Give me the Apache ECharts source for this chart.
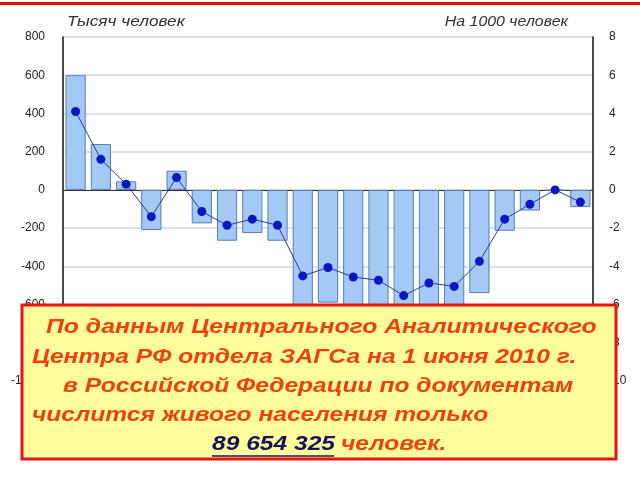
<!DOCTYPE html>
<html>
<head>
    <meta charset="utf-8">
    <title>ECharts</title>
    <script src="https://cdn.jsdelivr.net/npm/echarts@6/dist/echarts.min.js"></script>
    <style>
        html, body { margin: 0; padding: 0; background: #fff; }
        #main { width: 640px; height: 480px; }
    </style>
</head>
<body>
    <div id="main"></div>
<script type="text/javascript">
    // годы (подписи оси закрыты плашкой)
    var years = ['1990','1991','1992','1993','1994','1995','1996','1997','1998','1999','2000',
                 '2001','2002','2003','2004','2005','2006','2007','2008','2009','2010'];
    // тысяч человек
    var thousands = [600, 240, 45, -210, 100, -175, -266, -226, -266, -650, -590,
                     -660, -686, -802, -706, -732, -540, -214, -108, -3, -90];
    // на 1000 человек
    var perThousand = [4.1, 1.6, 0.3, -1.4, 0.65, -1.13, -1.85, -1.53, -1.85, -4.5, -4.06,
                       -4.56, -4.73, -5.53, -4.87, -5.05, -3.74, -1.53, -0.75, 0.0, -0.64];

    var noteColor = '#ef400d';
    var noteFont = 'italic bold 21px "Liberation Sans", Arial, sans-serif';
    var titleFont = 'italic 15px "Liberation Sans", Arial, sans-serif';

    // текст, растянутый по горизонтали, как на исходной картинке
    function txt(s, x, y, font, fill, sx, align) {
        return {
            type: 'text', z: 101, x: x, y: y, scaleX: sx,
            style: { text: s, x: 0, y: 0, fill: fill, font: font,
                     textAlign: align || 'left', align: align || 'left',
                     textVerticalAlign: 'middle', verticalAlign: 'middle' }
        };
    }

    var myChart = echarts.init(document.getElementById('main'));
    myChart.setOption({
        animation: false,
        grid: { left: 63, right: 47, top: 37, bottom: 99 },
        xAxis: {
            type: 'category',
            data: years,
            axisLine: { onZero: true, lineStyle: { color: '#333', width: 1 } },
            axisTick: { show: false },
            axisLabel: { show: false }
        },
        yAxis: [{
            type: 'value',
            min: -1000, max: 800, interval: 200,
            axisLine: { show: true, lineStyle: { color: '#111', width: 1.5 } },
            axisTick: { show: false },
            axisLabel: { color: '#222', fontSize: 12, fontFamily: 'Liberation Sans', margin: 18 },
            splitLine: { lineStyle: { color: '#d6d6d6', width: 1.5 } }
        }, {
            type: 'value',
            min: -10, max: 8, interval: 2,
            axisLine: { show: true, lineStyle: { color: '#111', width: 1.5 } },
            axisTick: { show: false },
            axisLabel: { color: '#222', fontSize: 12, fontFamily: 'Liberation Sans', margin: 16 },
            splitLine: { show: false }
        }],
        series: [{
            name: 'Тысяч человек',
            type: 'bar',
            data: thousands,
            barCategoryGap: '20%',
            itemStyle: { color: '#a3c9f6', borderColor: '#5a7db0', borderWidth: 1 }
        }, {
            name: 'На 1000 человек',
            type: 'line',
            yAxisIndex: 1,
            data: perThousand,
            symbol: 'circle',
            symbolSize: 9,
            lineStyle: { color: '#2b3a9e', width: 1 },
            itemStyle: { color: '#0a18c4' }
        }],
        graphic: [
            { type: 'rect', shape: { x: 0, y: 2, width: 640, height: 3 }, style: { fill: '#e01010' } },
            txt('Тысяч человек', 67, 22, titleFont, '#333', 1.15),
            txt('На 1000 человек', 568, 22, titleFont, '#333', 1.06, 'right'),
            { type: 'rect', z: 100, shape: { x: 22, y: 305, width: 594, height: 154 },
                style: { fill: '#fdfd9c', stroke: '#e81414', lineWidth: 3 } },
            txt('По данным Центрального Аналитического', 46, 327, noteFont, noteColor, 1.18),
            txt('Центра РФ отдела ЗАГСа на 1 июня 2010 г.', 32, 357, noteFont, noteColor, 1.17),
            txt('в Российской Федерации по документам', 63, 386, noteFont, noteColor, 1.17),
            txt('числится живого населения только', 32, 415, noteFont, noteColor, 1.17),
            txt('89 654 325', 212, 444, noteFont, '#14145e', 1.17),
            { type: 'line', z: 101, shape: { x1: 212, y1: 456, x2: 334, y2: 456 },
                style: { stroke: '#14145e', lineWidth: 1.5 } },
            txt('человек.', 341, 444, noteFont, noteColor, 1.17)
        ]
    });
</script>
</body>
</html>
